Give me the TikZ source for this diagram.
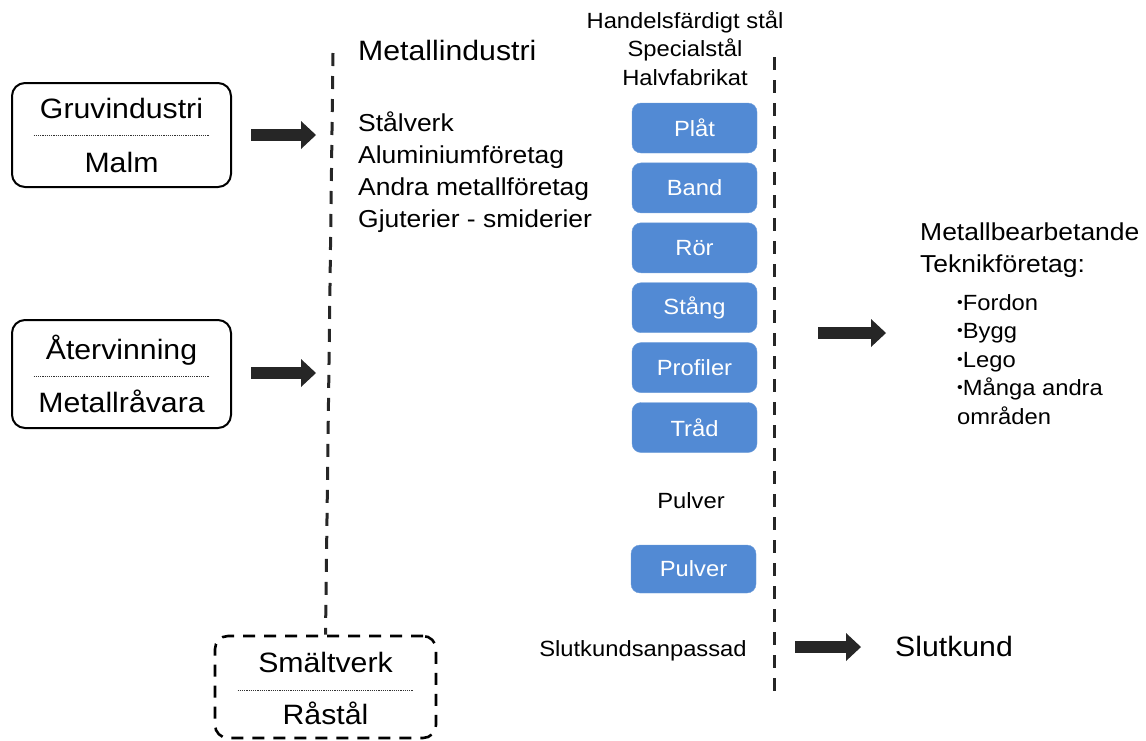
\documentclass[tikz,border=0pt]{standalone}
\usepackage{fontspec}
\setmainfont[FakeStretch=1.08]{Liberation Sans}
\usetikzlibrary{positioning,arrows.meta}
\definecolor{productblue}{RGB}{82,138,212}
\definecolor{arrowgray}{RGB}{38,38,38}
\newcommand{\areabullet}{\raisebox{3pt}{\fontsize{15}{15}\selectfont •}}
\tikzset{
  source box/.style={draw=black, line width=2pt, rounded corners=13pt, minimum width=219pt, minimum height=104pt},
  smelter box/.style={source box, line width=2.6pt, dash pattern=on 12pt off 9pt, minimum width=221pt, minimum height=102pt},
  box text/.style={anchor=base, inner sep=0pt, font=\fontsize{28}{32}\selectfont},
  sep line/.style={line width=0.9pt, dash pattern=on 1.2pt off 1pt, gray!40!black},
  divider/.style={line width=3pt, dash pattern=on 13pt off 10pt, black!85},
  product/.style={fill=productblue, draw=productblue!85!white, rounded corners=9pt, minimum width=125pt, minimum height=50pt, text=white, font=\fontsize{22}{26}\selectfont},
  flow arrow/.style={line width=11.5pt, arrowgray, -{Triangle[length=15pt, width=28pt, line width=0pt]}},
  big text/.style={inner sep=0pt, font=\fontsize{28}{32}\selectfont},
  mid text/.style={inner sep=0pt, align=left, font=\fontsize{24.5}{32}\selectfont},
  small text/.style={inner sep=0pt, font=\fontsize{22}{28.5}\selectfont},
}

\begin{document}
\begin{tikzpicture}[x=1pt,y=-1pt]
\useasboundingbox (0,0) rectangle (1146,740);
% the source boxes
\node [source box] (gruv) at (121.5,135) {};
\node [box text] (gruvtop) at ([yshift=17pt]gruv.center) {Gruvindustri};
\node [box text] (gruvbot) at ([yshift=-37pt]gruv.center) {Malm};
\draw [sep line] ([xshift=-88pt]gruv.center) -- ([xshift=88pt]gruv.center);

\node [source box, minimum height=108pt] (ater) at (121.5,374) {};
\node [box text] (atertop) at ([yshift=15pt]ater.center) {Återvinning};
\node [box text] (aterbot) at ([yshift=-38pt]ater.center) {Metallråvara};
\draw [sep line] ([xshift=-88pt,yshift=-2pt]ater.center) -- ([xshift=88pt,yshift=-2pt]ater.center);

\node [smelter box] (smalt) at (325.5,687) {};
\node [box text] (smalttop) at ([yshift=15pt]smalt.center) {Smältverk};
\node [box text] (smaltbot) at ([yshift=-37pt]smalt.center) {Råstål};
\draw [sep line] ([xshift=-88pt,yshift=-3pt]smalt.center) -- ([xshift=88pt,yshift=-3pt]smalt.center);

% metal industry column
\coordinate (metaltop) at (333,53);
\draw [divider] (metaltop) -- (smalt.north);
\node [big text, anchor=base west] (metal) at (358,60) {Metallindustri};
\node [mid text, anchor=base west] (works) at (358,227) {Stålverk\\Aluminiumföretag\\Andra metallföretag\\Gjuterier - smiderier};

% products
\node [small text, align=center, anchor=base] (trade) at (685,85) {Handelsfärdigt stål\\Specialstål\\Halvfabrikat};
\node [product] (plat) at (694.5,128) {Plåt};
\node [product, below=9.5pt of plat] (band) {Band};
\node [product, below=9.5pt of band] (ror) {Rör};
\node [product, below=9.5pt of ror] (stang) {Stång};
\node [product, below=9.5pt of stang] (profiler) {Profiler};
\node [product, below=9.5pt of profiler] (trad) {Tråd};
\node [small text, anchor=base] (pulvertext) at (691,508) {Pulver};
\node [product, minimum height=48pt] (pulverbox) at (693.5,569) {Pulver};
\node [small text, anchor=base] (anpassad) at (643,656) {Slutkundsanpassad};

\coordinate (tradetop) at (774,57);
\coordinate (tradebot) at (774,697);
\draw [divider] (tradetop) -- (tradebot);

% users
\node [mid text, anchor=base west] (users) at (920,272) {Metallbearbetande\\Teknikföretag:};
\node [small text, align=left, anchor=base west] (areas) at (957,424) {\areabullet Fordon\\\areabullet Bygg\\\areabullet Lego\\\areabullet Många andra\\områden};
\node [big text, anchor=base west] (kund) at (895,656) {Slutkund};

%drawings of arrows
\coordinate (gruvtip) at (316,135);
\coordinate (atertip) at (316,373);
\coordinate (userstail) at (818,333);
\coordinate (userstip) at (886,333);
\coordinate (kundtail) at (795,647);
\coordinate (kundtip) at (861,647);
\draw [flow arrow] ([xshift=19pt]gruv.east) -- (gruvtip);
\draw [flow arrow] ([xshift=19pt,yshift=1pt]ater.east) -- (atertip);
\draw [flow arrow] (userstail) -- (userstip);
\draw [flow arrow] (kundtail) -- (kundtip);

\end{tikzpicture}
\end{document}
